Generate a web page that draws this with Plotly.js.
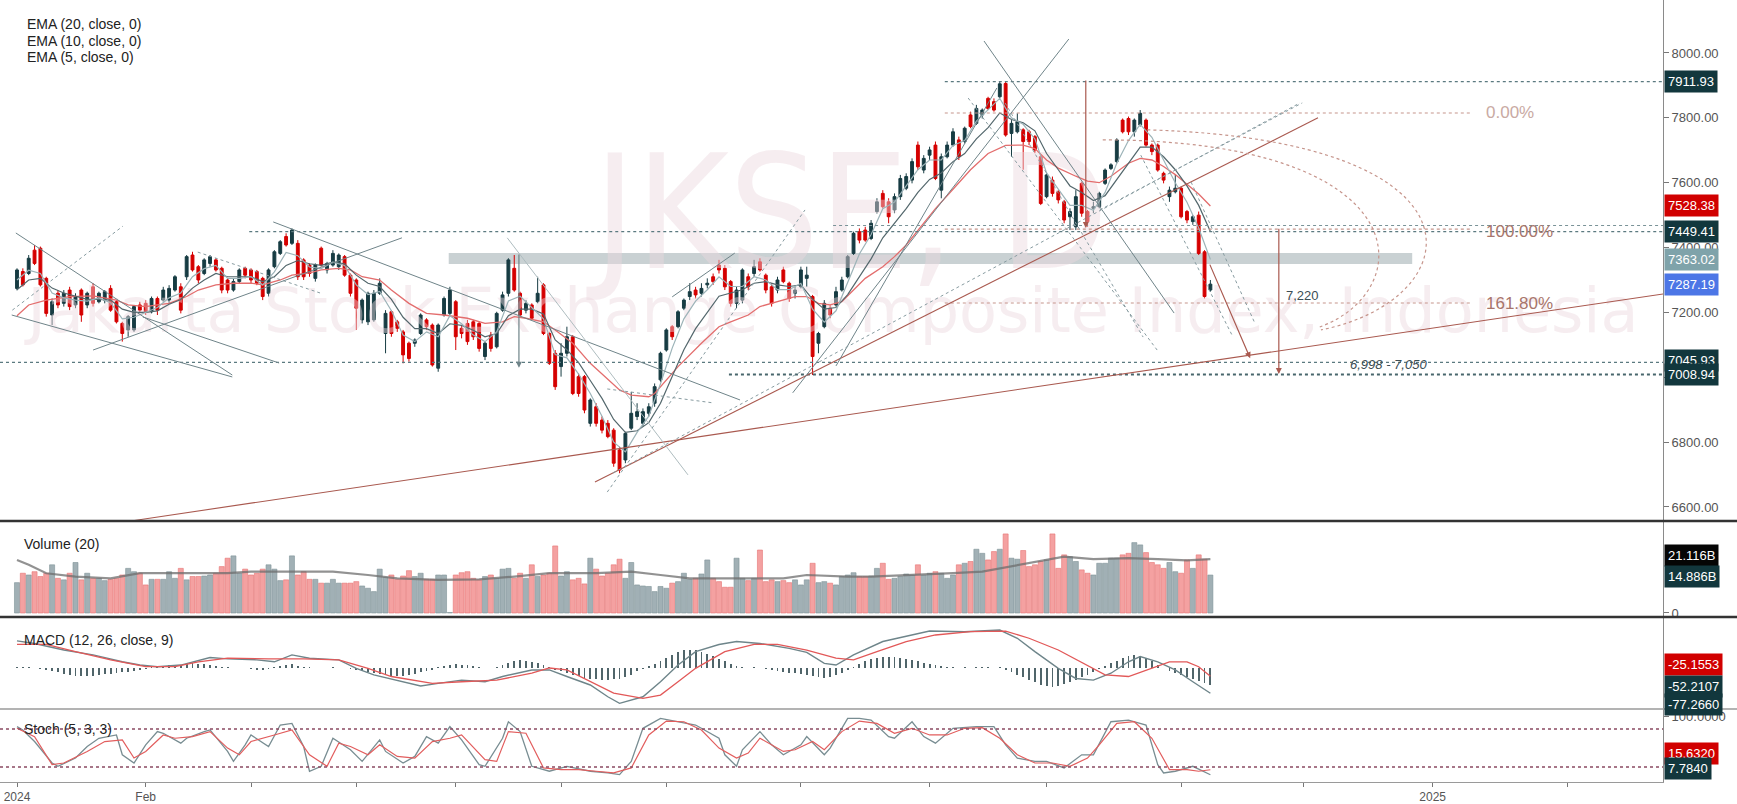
<!DOCTYPE html>
<html><head><meta charset="utf-8">
<script src="https://cdn.plot.ly/plotly-3.0.1.min.js"></script>
<style>html,body{margin:0;padding:0;background:#fff;}#chart{width:1737px;height:804px;}</style>
</head><body><div id="chart"></div>
<script>
// ---------------- DATA ----------------
const monthTickIdx  = [0, 22, 40, 58, 75, 93, 111, 134, 156, 176, 199, 220, 242, 265];
const monthTickText = ['2024', 'Feb', '', '', '', '', '', '', '', '', '', '', '2025', ''];

const openP = [7274,7326,7320,7392,7398,7305,7192,7259,7228,7269,7223,7269,7223,7279,7233,7238,7274,7233,7166,7146,
7146,7223,7228,7202,7243,7238,7238,7269,7279,7310,7377,7341,7320,7351,7362,7336,7300,7269,7295,7336,
7331,7326,7305,7259,7341,7382,7434,7413,7413,7362,7346,7305,7398,7331,7346,7341,7372,7315,7300,7177,
7171,7177,7259,7135,7202,7171,7140,7105,7105,7135,7177,7161,7028,7192,7197,7233,7151,7166,7171,7166,
7064,7130,7094,7207,7259,7336,7259,7207,7223,7233,7285,7135,7074,7033,7074,7125,7002,7002,6858,6909,
6868,6858,6837,6776,6745,6843,6879,6858,6889,6920,6992,7084,7156,7156,7213,7249,7269,7259,7285,7310,
7346,7336,7295,7228,7238,7310,7320,7356,7315,7279,7269,7331,7290,7259,7279,7305,7249,7105,7156,7213,
7223,7269,7310,7382,7449,7454,7428,7511,7567,7541,7516,7557,7583,7608,7716,7639,7685,7716,7577,7680,
7716,7732,7727,7809,7783,7809,7860,7850,7865,7906,7752,7757,7763,7757,7742,7680,7557,7608,7572,7541,
7495,7464,7598,7511,7521,7526,7598,7644,7665,7793,7798,7757,7778,7793,7716,7716,7629,7557,7572,7583,
7511,7480,7500,7387,7269];
const highP = [7336,7336,7377,7408,7403,7310,7243,7269,7269,7279,7259,7274,7264,7290,7264,7269,7284,7238,7171,7192,
7223,7233,7238,7249,7249,7279,7284,7315,7290,7377,7387,7346,7367,7377,7367,7341,7305,7305,7336,7341,
7336,7331,7310,7336,7392,7423,7444,7459,7423,7367,7351,7351,7403,7356,7392,7382,7377,7320,7305,7243,
7264,7269,7305,7207,7207,7177,7146,7110,7120,7197,7182,7166,7166,7249,7279,7238,7161,7177,7177,7171,
7110,7140,7202,7264,7367,7377,7264,7238,7228,7310,7290,7140,7084,7105,7156,7130,7012,7007,6935,6920,
6879,6868,6843,6786,6832,6955,6920,6904,6920,6981,7079,7151,7161,7207,7243,7290,7279,7290,7305,7320,
7362,7346,7300,7279,7336,7320,7362,7367,7320,7290,7310,7341,7295,7279,7341,7341,7254,7140,7238,7223,
7279,7310,7377,7449,7459,7464,7485,7552,7577,7552,7567,7624,7629,7675,7727,7685,7711,7727,7690,7727,
7768,7742,7773,7819,7840,7829,7865,7860,7911.93,7912,7793,7814,7768,7763,7747,7685,7629,7619,7577,7547,
7521,7577,7603,7516,7541,7572,7644,7660,7737,7798,7804,7798,7824,7798,7721,7721,7634,7588,7624,7588,
7516,7500,7511,7392,7300];
const lowP = [7268,7280,7315,7346,7280,7187,7161,7213,7218,7207,7213,7171,7213,7218,7228,7228,7202,7166,7110,7125,
7140,7197,7192,7197,7192,7233,7228,7264,7197,7300,7326,7290,7315,7341,7326,7259,7259,7264,7290,7305,
7290,7284,7238,7249,7336,7377,7403,7408,7300,7300,7310,7295,7341,7320,7341,7331,7310,7249,7146,7166,
7161,7171,7254,7074,7125,7140,7043,7048,7094,7130,7146,7033,7017,7187,7192,7084,7120,7100,7115,7079,
7053,7079,7089,7202,7249,7264,7187,7197,7177,7228,7130,7038,6961,7002,7064,6945,6940,6889,6848,6848,
6827,6812,6724,6704,6735,6837,6868,6848,6879,6909,6986,7079,7115,7151,7207,7238,7243,7249,7274,7285,
7320,7269,7218,7213,7228,7269,7310,7326,7259,7218,7259,7290,7233,7243,7274,7279,7007,7074,7151,7182,
7218,7264,7305,7377,7413,7418,7423,7505,7521,7475,7506,7547,7577,7598,7639,7629,7670,7608,7552,7675,
7711,7670,7721,7768,7778,7798,7824,7819,7860,7742,7680,7752,7640,7716,7691,7531,7552,7557,7536,7475,
7454,7454,7495,7464,7506,7521,7593,7639,7660,7752,7747,7742,7773,7711,7685,7634,7598,7541,7567,7490,
7475,7470,7377,7243,7264];
const closeP = [7331,7285,7367,7351,7285,7197,7233,7223,7259,7218,7249,7192,7259,7228,7259,7264,7207,7171,7135,7187,
7218,7207,7202,7243,7207,7269,7274,7310,7207,7372,7331,7300,7362,7372,7331,7269,7269,7295,7331,7315,
7300,7290,7249,7331,7387,7418,7408,7454,7310,7310,7320,7346,7346,7351,7382,7377,7315,7259,7213,7238,
7259,7259,7290,7197,7135,7151,7069,7058,7115,7192,7156,7038,7161,7243,7269,7125,7135,7110,7125,7089,
7105,7089,7197,7254,7362,7269,7192,7228,7182,7259,7135,7043,6971,7074,7125,6950,6950,6899,6930,6858,
6837,6817,6735,6714,6827,6889,6894,6894,6909,6971,7074,7146,7125,7202,7238,7264,7254,7274,7290,7295,
7331,7279,7228,7269,7331,7279,7341,7331,7269,7228,7300,7295,7243,7269,7331,7315,7064,7135,7228,7192,
7264,7300,7372,7444,7423,7423,7475,7541,7526,7495,7557,7613,7619,7665,7649,7675,7701,7613,7680,7716,
7757,7680,7768,7773,7829,7824,7829,7824,7905,7747,7783,7788,7727,7727,7701,7536,7624,7567,7547,7485,
7511,7557,7506,7480,7526,7567,7639,7655,7732,7757,7757,7793,7814,7716,7696,7639,7608,7577,7583,7495,
7485,7495,7382,7249,7287.19];

// volume, billions
const volumeB = [11.9,15.6,14.9,16.2,14.3,15.6,18.9,13.6,13.0,15.6,19.8,13.0,15.6,13.6,13.6,12.7,13.2,13.6,14.9,17.5,
16.2,15.6,11.0,13.2,13.2,13.2,16.2,13.6,17.5,13.0,14.3,14.3,14.5,14.9,15.6,18.2,21.5,22.4,15.6,17.2,
14.9,15.6,17.2,18.9,17.2,12.7,13.0,22.4,14.9,16.2,13.2,13.2,11.7,11.7,13.2,11.7,11.7,11.7,12.3,10.6,
9.7,8.4,17.2,14.0,14.9,13.2,14.5,16.6,14.3,15.6,13.2,13.2,14.9,14.9,0.2,14.9,15.8,16.2,13.6,13.0,
14.3,14.9,13.6,17.2,17.5,13.6,15.6,13.6,18.9,14.3,14.9,15.6,26.3,14.5,16.2,13.0,13.6,11.4,21.5,17.2,
14.5,15.6,18.9,21.1,13.6,19.8,11.0,10.6,10.4,8.4,10.4,9.7,11.7,12.3,15.6,13.2,13.6,15.3,20.8,13.6,
12.3,10.1,10.1,21.5,13.6,12.7,13.6,24.7,12.3,13.0,12.3,12.7,11.9,13.0,11.0,13.0,19.5,11.9,12.3,11.7,
11.0,14.3,14.9,15.8,14.3,14.3,14.5,17.5,19.5,13.2,13.6,14.3,15.3,14.9,18.9,14.9,15.6,16.2,15.6,13.6,
14.9,18.9,19.5,20.2,25.0,23.4,20.8,24.1,25.0,31.0,21.5,21.1,24.5,18.2,18.9,20.2,20.8,31.0,17.5,22.8,
22.1,20.2,16.9,15.6,14.9,19.5,19.5,21.5,21.5,22.8,23.4,27.6,26.7,23.7,19.8,18.9,17.5,19.8,16.2,15.6,
20.8,17.5,22.8,21.1,14.886];
const volMaIdx = [0,2,5,10,16,21,28,36,40,44,49,54,60,65,72,79,85,91,99,105,110,115,123,131,135,142,146,154,160,165,170,175,179,184,190,195,200,204];
const volMaVal = [20.8,18.9,15.6,14.3,13.6,15.6,15.6,15.6,16.2,16.2,16.2,16.2,14.9,13.6,13.0,13.2,14.3,15.6,15.6,16.2,14.9,13.6,13.6,13.6,14.9,14.3,14.3,14.9,15.6,16.2,18.2,20.2,22.1,21.1,21.5,21.1,20.6,21.116];

// EMA lines
const ema20Idx = [0,2,5,9,13,17,19,22,24,26,29,31,34,37,40,42,45,47,50,52,55,57,59,62,64,67,70,73,77,80,83,85,87,90,92,95,98,101,103,105,108,109,111,113,117,120,122,125,127,129,133,135,137,139,141,143,145,148,150,152,154,157,160,163,166,169,172,174,176,178,181,183,185,187,190,192,194,196,198,200,202,204];
const ema20Val = [7190,7223,7238,7249,7251,7238,7223,7218,7223,7228,7249,7269,7285,7290,7290,7285,7300,7315,7322,7331,7336,7331,7310,7300,7269,7228,7197,7192,7182,7166,7171,7187,7182,7171,7146,7105,7043,6992,6961,6945,6940,6950,6992,7033,7105,7156,7171,7192,7218,7228,7249,7249,7228,7223,7233,7269,7305,7341,7372,7408,7454,7520,7580,7640,7690,7715,7716,7705,7670,7645,7620,7605,7600,7620,7660,7675,7670,7650,7625,7595,7565,7528.38];
const ema10Val = [7270,7300,7305,7275,7260,7250,7240,7240,7238,7210,7200,7200,7205,7225,7240,7275,7300,7320,7310,7310,7310,7295,7310,7345,7360,7350,7345,7355,7350,7315,7290,7280,7240,7185,7150,7150,7135,7165,7160,7145,7125,7135,7190,7210,7210,7195,7115,7085,7045,6990,6935,6870,6830,6835,6860,6920,7000,7085,7150,7200,7250,7260,7270,7290,7295,7285,7280,7285,7240,7210,7215,7255,7310,7365,7430,7475,7520,7570,7610,7630,7665,7690,7735,7770,7815,7795,7785,7760,7690,7640,7590,7570,7545,7560,7610,7660,7710,7710,7680,7640,7590,7530,7449.41];
const ema5Val = [7300,7330,7320,7260,7245,7238,7235,7245,7230,7180,7185,7200,7215,7245,7260,7310,7335,7345,7305,7305,7310,7285,7325,7385,7375,7340,7335,7355,7345,7285,7255,7265,7205,7130,7110,7140,7125,7190,7165,7130,7110,7140,7235,7250,7215,7180,7070,7060,7010,6950,6880,6800,6770,6830,6880,6980,7090,7180,7235,7270,7310,7280,7280,7310,7300,7270,7270,7290,7210,7170,7205,7290,7380,7440,7520,7540,7590,7640,7670,7670,7715,7730,7790,7825,7860,7800,7780,7735,7630,7580,7530,7530,7515,7570,7660,7730,7780,7740,7670,7600,7540,7460,7363.02];

// MACD (12, 26, close, 9)
const macdHist = [4,3,2,1,-2,
-5,-9,-13,-17,-20,-23,-25,-26,-25,-22,-19,-17,-15,-13,-11,-8,-5,-3,
2,4,6,8,10,9,12,14,13,11,9,7,4,2,
1,0,-1,-3,-5,-6,
-3,2,6,9,11,7,4,
2,1,0,1,2,1,-1,-3,
-6,-9,-12,-15,-18,-22,-26,-25,-24,-22,-18,-13,-9,-5,
2,5,8,11,10,8,5,2,
1,-1,2,
8,14,20,24,22,18,14,8,3,
-5,-10,-14,-20,-25,-30,-33,-35,-36,-36,-35,-33,-28,-20,-10,-2,
5,12,20,30,40,48,54,56,55,50,44,36,28,20,12,6,
3,1,2,-1,-3,
-6,-9,-12,-14,-16,-18,-20,-25,-28,-30,-27,-22,-14,-6,
4,12,20,27,32,35,34,33,30,27,24,20,16,12,8,
5,3,2,1,2,1,2,3,2,1,2,
-5,-12,-20,-28,-36,-44,-52,-56,-57,-55,-50,-44,-36,-28,-20,-12,-4,
6,14,22,30,37,40,38,30,20,10,
0,-8,-15,-22,-28,-33,-40,-47,-52.2107];
const macdIdx = [0,3,8,13,18,21,24,28,33,36,41,44,47,50,55,58,61,66,69,72,76,80,83,88,91,94,98,101,103,107,110,113,116,120,123,127,132,135,138,140,143,148,152,156,162,168,171,174,178,181,184,187,190,192,195,198,201,204];
const macdVal = [83,75,55,40,19,9,4,9,32,28,25,19,40,30,25,-1,-21,-42,-55,-47,-37,-42,-26,-6,-6,-26,-52,-88,-108,-88,-42,9,50,72,81,75,60,48,14,9,40,81,96,113,111,116,91,50,-1,-32,-37,-16,19,35,19,-6,-42,-77.266];
const signalIdx = [0,5,10,16,22,27,31,36,43,49,55,60,64,71,76,82,88,91,94,98,102,107,110,113,116,121,126,130,135,140,143,147,152,157,163,169,173,178,183,186,190,194,197,200,202,204];
const signalVal = [72,72,50,25,4,4,19,30,28,28,25,-1,-26,-47,-42,-37,-16,0,-6,-42,-77,-93,-83,-42,-1,50,72,72,55,30,25,50,81,101,111,113,91,55,9,-21,-26,-1,19,19,4,-25.1553];

// Stoch (5, 3, 3)
const stochKIdx = [0,1,3,6,7,10,12,14,17,18,20,22,24,25,28,29,32,33,36,37,39,40,43,45,47,49,50,52,54,57,59,62,63,66,68,70,72,74,76,79,80,83,84,86,88,91,94,98,101,103,105,107,110,113,116,120,121,123,124,127,129,131,134,135,138,139,142,144,146,149,150,153,155,157,160,164,167,169,171,174,176,179,182,184,187,190,193,195,196,198,201,204];
const stochKVal = [83.7,78.5,60.2,26.3,21.1,34.1,52.4,65.4,70.6,39.3,26.3,55.0,75.9,73.3,57.6,65.4,75.9,78.5,44.6,28.9,55.0,70.6,52.4,86.3,88.9,52.4,13.3,21.1,65.4,47.2,28.9,62.8,44.6,26.3,36.7,68.0,57.6,83.7,62.8,23.7,21.1,65.4,91.5,75.9,21.1,13.3,21.1,13.3,10.6,8.0,28.9,81.1,96.7,91.5,86.3,65.4,39.3,21.1,47.2,75.9,55.0,39.3,55.0,68.0,39.3,49.8,96.7,96.7,94.1,68.0,65.4,91.5,68.0,57.6,81.1,83.7,83.7,55.0,34.1,28.9,28.9,18.5,39.3,39.3,91.5,94.1,86.3,23.7,10.6,13.3,21.1,7.784];
const stochDIdx = [0,3,6,8,12,15,18,20,22,25,27,30,33,36,38,40,44,47,50,53,55,57,60,62,65,68,71,74,76,80,82,84,87,90,93,96,99,102,105,108,111,114,117,120,123,125,127,131,133,136,138,141,144,147,150,153,156,159,162,165,168,171,174,177,180,183,185,188,191,194,197,200,202,204];
const stochDVal = [81.1,68.0,23.7,26.3,44.6,60.2,62.8,34.1,44.6,70.6,65.4,68.0,75.9,49.8,39.3,60.2,70.6,78.5,39.3,21.1,57.6,52.4,39.3,55.0,36.7,34.1,60.2,65.4,70.6,31.5,28.9,75.9,73.3,18.5,15.9,15.9,13.3,10.6,18.5,70.6,92.6,91.5,78.5,49.8,34.1,42.0,65.4,44.6,47.2,60.2,47.2,75.9,92.6,88.9,73.3,81.1,70.6,70.6,81.1,82.1,65.4,39.3,26.3,26.3,21.1,34.1,55.0,88.9,91.5,65.4,15.9,15.9,13.3,15.632];

// ---------------- BUILD ----------------
const idx = closeP.map((_, i) => i);
const evenIdx = ema10Val.map((_, k) => 2 * k);
const UP = '#173c43', DN = '#d50000';
const font = 'Liberation Sans, Arial, sans-serif';

const volColors = idx.map(i => closeP[i] >= openP[i] ? 'rgba(130,150,156,0.75)' : 'rgba(240,130,130,0.75)');
const volLine = idx.map(i => closeP[i] >= openP[i] ? '#7d9297' : '#e57373');

const traces = [
  {type:'scatter', mode:'text', x:[142.6], y:[7460], text:['JKSE, D'],
   textfont:{family:'Liberation Sans Narrow, Arial Narrow, DejaVu Sans Condensed, Liberation Sans, sans-serif', size:158, color:'rgba(236,214,222,0.45)'},
   cliponaxis:false, hoverinfo:'skip', xaxis:'x', yaxis:'y'},
  {type:'scatter', mode:'text', x:[139.5], y:[7188], text:['Jakarta Stock Exchange Composite Index, Indonesia'],
   textfont:{family:'DejaVu Sans, sans-serif', size:62, color:'rgba(236,214,222,0.45)'},
   cliponaxis:false, hoverinfo:'skip', xaxis:'x', yaxis:'y'},
  {type:'candlestick', x:idx, open:openP, high:highP, low:lowP, close:closeP, xaxis:'x', yaxis:'y',
   increasing:{line:{color:UP, width:1}, fillcolor:UP}, decreasing:{line:{color:DN, width:1}, fillcolor:DN},
   whiskerwidth:0, hoverinfo:'skip'},
  {type:'scatter', mode:'lines', x:ema20Idx, y:ema20Val, line:{color:'#e36d6d', width:1.3}, xaxis:'x', yaxis:'y', hoverinfo:'skip'},
  {type:'scatter', mode:'lines', x:evenIdx, y:ema10Val, line:{color:'#53676c', width:1.2}, xaxis:'x', yaxis:'y', hoverinfo:'skip'},
  {type:'scatter', mode:'lines', x:evenIdx, y:ema5Val, line:{color:'#9cb3b8', width:1.2}, xaxis:'x', yaxis:'y', hoverinfo:'skip'},
  {type:'bar', x:idx, y:volumeB, marker:{color:volColors, line:{color:volLine, width:0.6}}, width:0.86, xaxis:'x', yaxis:'y2', hoverinfo:'skip'},
  {type:'scatter', mode:'lines', x:volMaIdx, y:volMaVal, line:{color:'rgba(110,110,110,0.75)', width:2.2}, xaxis:'x', yaxis:'y2', hoverinfo:'skip'},
  {type:'bar', x:idx, y:macdHist, marker:{color:'#50656a'}, width:0.32, xaxis:'x', yaxis:'y3', hoverinfo:'skip'},
  {type:'scatter', mode:'lines', x:macdIdx, y:macdVal, line:{color:'#6e858a', width:1.4}, xaxis:'x', yaxis:'y3', hoverinfo:'skip'},
  {type:'scatter', mode:'lines', x:signalIdx, y:signalVal, line:{color:'#e25858', width:1.3}, xaxis:'x', yaxis:'y3', hoverinfo:'skip'},
  {type:'scatter', mode:'lines', x:stochKIdx, y:stochKVal, line:{color:'#788d92', width:1.3}, xaxis:'x', yaxis:'y4', hoverinfo:'skip'},
  {type:'scatter', mode:'lines', x:stochDIdx, y:stochDVal, line:{color:'#e25d5d', width:1.2}, xaxis:'x', yaxis:'y4', hoverinfo:'skip'}
];

const XR = [-2.906, 281.37];
const G = '#6f8489', GD = '#889ca1', BR = '#a9594f', BRD = '#c6958c';
function seg(x0, y0, x1, y1, color, dash, width) {
  return {type:'line', xref:'x', yref:'y', x0, y0, x1, y1, line:{color, dash:dash || 'solid', width:width || 1}};
}
function hline(y, x0, x1, color, dash, width) {
  return {type:'line', xref:'x', yref:'y', x0, x1, y0:y, y1:y, line:{color, dash, width}};
}
const shapes = [
  {type:'rect', xref:'x', yref:'y', x0:73.8, x1:238.5, y0:7349, y1:7383, fillcolor:'#c9d1d3', line:{width:0}, layer:'below'},
  hline(7911.93, 158.6, XR[1], '#5b7a80', 'dot', 1.2),
  hline(7449.41, 39.7, XR[1], '#5b7a80', 'dot', 1.2),
  hline(7468, 139.5, XR[1], '#7a9398', 'dot', 1.1),
  hline(7045.93, XR[0], XR[1], '#5b7a80', 'dot', 1.2),
  hline(7008.94, 121.7, XR[1], '#48666c', 'dot', 2),
  hline(7815, 158.6, 248.4, BRD, 'dot', 1.2),
  hline(7457, 158.6, 248.4, BRD, 'dot', 1.2),
  hline(7229, 158.6, 248.4, BRD, 'dot', 1.2),
  seg(19.5, 6557, 281.4, 7257, BR, 'solid', 1.1),
  seg(98.8, 6677, 222.4, 7800, BR, 'solid', 1.1),
  seg(-0.2, 7445, 36.8, 7007, G),
  seg(-0.9, 7192, 36.8, 7001, G),
  seg(13, 7084, 65.8, 7430, G),
  seg(21.5, 7186, 44.8, 7044, G),
  seg(43.8, 7479, 123.6, 6930, G),
  seg(83.8, 7430, 114.7, 6699, '#aebcbf'),
  seg(112, 7248, 122.7, 7383, G),
  seg(132.6, 6952, 179.8, 8043, G),
  seg(140, 7035, 167.5, 7892, G),
  seg(165.3, 8037, 197.8, 7198, G),
  seg(-0.8, 7207, 18.1, 7466, GD, 'dot'),
  seg(30.9, 7386, 51.8, 7260, GD, 'dot'),
  seg(100.9, 6646, 134.7, 7516, GD, 'dot'),
  seg(100.9, 6964, 119, 6921, GD, 'dot'),
  seg(101.9, 6705, 219.3, 7846, GD, 'dot'),
  seg(162.6, 7861, 194.9, 7084, GD, 'dot'),
  seg(168.9, 7846, 192.5, 7124, GD, 'dot'),
  seg(192.1, 7685, 207.7, 7130, GD, 'dot'),
  seg(200.7, 7602, 211.6, 7167, GD, 'dot'),
  seg(185.1, 7516, 219.7, 7846, GD, 'dot'),
  {type:'path', xref:'x', yref:'y', path:'M193.2,7763 C253.5,7732 248.4,7238 222.9,7146', line:{color:BRD, dash:'dot', width:1.2}},
  {type:'path', xref:'x', yref:'y', path:'M185.6,7732 C239.8,7732 239.8,7269 222.7,7155', line:{color:BRD, dash:'dot', width:1.2}},
  {type:'line', xref:'paper', yref:'y4', x0:0, x1:1, y0:80, y1:80, line:{color:'#8a4a62', dash:'dot', width:1.6}},
  {type:'line', xref:'paper', yref:'y4', x0:0, x1:1, y0:20, y1:20, line:{color:'#8a4a62', dash:'dot', width:1.6}},
  {type:'line', xref:'paper', yref:'paper', x0:0, x1:1.045, y0:0.33376, y1:0.33376, line:{color:'#333', width:2.5}},
  {type:'line', xref:'paper', yref:'paper', x0:0, x1:1.045, y0:0.21100, y1:0.21100, line:{color:'#333', width:2.5}},
  {type:'line', xref:'paper', yref:'paper', x0:0, x1:1.045, y0:0.09335, y1:0.09335, line:{color:'#9a9a9a', width:1.5}}
];

function box(text, yref, y, bg) {
  return {xref:'paper', x:1, xanchor:'left', xshift:1, yref, y, yanchor:'middle', text, showarrow:false,
          bgcolor:bg, borderpad:3, font:{family:font, size:13, color:'#ffffff'}};
}
function label(text, x, y, size, color, anchor) {
  return {xref:'paper', yref:'paper', x, y, xanchor:anchor || 'left', yanchor:'middle', text, showarrow:false,
          font:{family:font, size, color}};
}
function arrow(x, y, ax, ay, color) {
  return {xref:'x', yref:'y', axref:'x', ayref:'y', x, y, ax, ay, text:'', showarrow:true,
          arrowhead:2, arrowsize:1, arrowwidth:1.2, arrowcolor:color};
}
const DARK = '#12373d';
const annotations = [
  label('EMA (20, close, 0)', 0.015, 1 - 24/782, 14, '#222'),
  label('EMA (10, close, 0)', 0.015, 1 - 41/782, 14, '#222'),
  label('EMA (5, close, 0)', 0.015, 1 - 57/782, 14, '#222'),
  label('Volume (20)', 0.013, 1 - 544/782, 14, '#222'),
  label('MACD (12, 26, close, 9)', 0.013, 1 - 640/782, 14, '#222'),
  label('Stoch (5, 3, 3)', 0.013, 1 - 729/782, 14, '#222'),
  {xref:'x', yref:'y', x:250.8, y:7815, xanchor:'left', yanchor:'middle', text:'0.00%', showarrow:false, font:{family:font, size:17, color:'#c9aaa3'}},
  {xref:'x', yref:'y', x:250.8, y:7450, xanchor:'left', yanchor:'middle', text:'100.00%', showarrow:false, font:{family:font, size:17, color:'#a8756b'}},
  {xref:'x', yref:'y', x:250.8, y:7229, xanchor:'left', yanchor:'middle', text:'161.80%', showarrow:false, font:{family:font, size:17, color:'#a8756b'}},
  {xref:'x', yref:'y', x:219.8, y:7251, xanchor:'center', yanchor:'middle', text:'7,220', showarrow:false, font:{family:font, size:13, color:'#3b4d54'}},
  {xref:'x', yref:'y', x:234.4, y:7038, xanchor:'center', yanchor:'middle', text:'<i>6,998 - 7,050</i>', showarrow:false, font:{family:font, size:13, color:'#3b4d54'}},
  arrow(182.7, 7460, 182.7, 7920, BR),
  arrow(215.7, 7010, 215.7, 7463, BR),
  arrow(210.8, 7059, 203.8, 7352, BR),
  arrow(85.8, 7029, 85.8, 7383, G),
  box('7911.93', 'y', 7911.93, DARK),
  box('7528.38', 'y', 7528.38, '#d10000'),
  box('7449.41', 'y', 7449.41, DARK),
  box('7363.02', 'y', 7363.02, '#7fa3aa'),
  box('7287.19', 'y', 7287.19, '#4c76e6'),
  box('7045.93', 'y', 7052, DARK),
  box('7008.94', 'y', 7008.94, DARK),
  box('21.116B', 'y2', 22.7, '#050505'),
  box('14.886B', 'y2', 14.5, DARK),
  box('-25.1553', 'y3', 9.2, '#d10000'),
  box('-52.2107', 'y3', -58, DARK),
  box('-77.2660', 'y3', -112, DARK),
  box('15.6320', 'y4', 42.1, '#d10000'),
  box('7.7840', 'y4', 17, DARK)
];

const yBase = {side:'right', anchor:'x', showgrid:false, zeroline:false, showline:true, linecolor:'#8a8a8a', linewidth:1,
  ticks:'outside', ticklen:5, tickcolor:'#777', tickfont:{family:font, size:13, color:'#555'}, fixedrange:true};
const layout = {
  width:1737, height:804, margin:{l:0, r:74, t:0, b:22}, paper_bgcolor:'#fff', plot_bgcolor:'#fff',
  showlegend:false, hovermode:false, dragmode:false, bargap:0,
  font:{family:font, size:13, color:'#555'},
  xaxis:{domain:[0,1], range:XR, anchor:'y4', showgrid:false, zeroline:false, showline:true, linecolor:'#9a9a9a', linewidth:1,
    ticks:'outside', ticklen:4, tickcolor:'#777', tickvals:monthTickIdx, ticktext:monthTickText,
    tickfont:{family:font, size:12, color:'#555'}, rangeslider:{visible:false}, fixedrange:true, ticklabeloverflow:'allow'},
  yaxis:Object.assign({}, yBase, {domain:[0.33376, 1], range:[6556.8, 8163.4],
    tickvals:[6600,6800,7000,7200,7400,7600,7800,8000], ticktext:['6600.00','6800.00','7000.00','7200.00','7400.00','7600.00','7800.00','8000.00']}),
  yaxis2:Object.assign({}, yBase, {domain:[0.21100, 0.33376], range:[-1.57, 36.08], tickvals:[0], ticktext:['0']}),
  yaxis3:Object.assign({}, yBase, {domain:[0.09335, 0.21100], range:[-125.4, 156], showticklabels:false, ticks:''}),
  yaxis4:Object.assign({}, yBase, {domain:[0, 0.09335], range:[-3.7, 111.6], tickvals:[100], ticktext:['100.0000']}),
  shapes, annotations
};
Plotly.newPlot('chart', traces, layout, {staticPlot:true, displayModeBar:false});
</script></body></html>
